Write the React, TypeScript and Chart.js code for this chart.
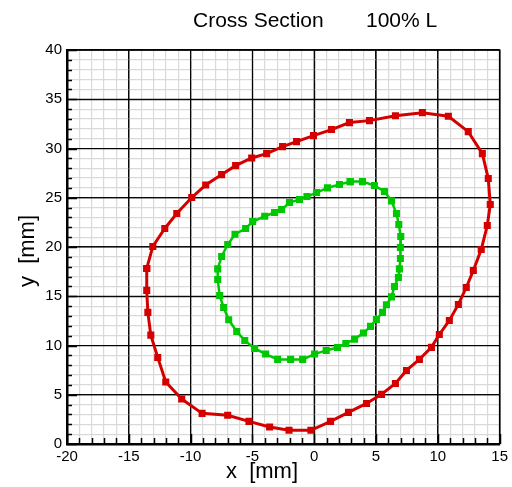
import React, { useEffect, useRef } from "react";
import { Chart, registerables } from "chart.js";

Chart.register(...registerables);

// Outer section contour (red), going counter-clockwise from the left side
const outerX = [-13.55, -13.55, -13.46, -13.22, -12.66, -12.01, -10.72, -9.07, -7.0, -5.28, -3.61, -2.04, -0.27, 1.32, 2.77, 4.23, 5.44, 6.57, 7.46, 8.51, 9.48, 10.12, 10.93, 11.66, 12.3, 12.87, 13.51, 14.0, 14.24, 14.08, 13.6, 12.46, 10.85, 8.75, 6.57, 4.47, 2.85, 1.4, -0.06, -1.43, -2.56, -3.85, -5.06, -6.36, -7.49, -8.78, -9.91, -11.12, -12.09, -13.06];
const outerY = [17.82, 15.6, 13.36, 11.05, 8.79, 6.29, 4.56, 3.11, 2.91, 2.3, 1.72, 1.39, 1.39, 2.3, 3.21, 4.12, 5.04, 6.15, 7.47, 8.59, 9.81, 11.12, 12.54, 14.17, 15.89, 17.61, 19.75, 22.18, 24.31, 26.95, 29.48, 31.71, 33.27, 33.64, 33.33, 32.83, 32.63, 31.92, 31.31, 30.7, 30.19, 29.48, 29.04, 28.26, 27.35, 26.3, 25.02, 23.4, 21.88, 20.05];

// Inner section contour (green), going clockwise from the top
const innerX = [2.91, 3.9, 4.87, 5.68, 6.25, 6.65, 6.84, 7.0, 6.97, 6.97, 6.89, 6.81, 6.49, 6.25, 5.84, 5.52, 5.03, 4.55, 3.98, 3.26, 2.56, 1.88, 0.97, 0.03, -0.94, -1.91, -2.96, -3.93, -4.82, -5.62, -6.27, -6.92, -7.33, -7.65, -7.81, -7.81, -7.49, -7.0, -6.41, -5.55, -4.98, -4.01, -3.21, -2.64, -2.0, -1.19, -0.59, 0.19, 1.07, 2.04];
const innerY = [26.64, 26.64, 26.24, 25.63, 24.68, 23.4, 22.28, 21.06, 19.95, 18.83, 17.78, 16.9, 15.99, 14.94, 14.13, 13.36, 12.64, 11.94, 11.26, 10.65, 10.21, 9.8, 9.5, 9.13, 8.59, 8.59, 8.59, 9.13, 9.7, 10.51, 11.43, 12.61, 13.86, 15.08, 16.7, 17.78, 19.04, 20.25, 21.3, 21.88, 22.59, 23.12, 23.5, 23.8, 24.51, 24.82, 25.12, 25.53, 26.0, 26.34];

// Axis ranges and labels
const xRange = [-20, 15];
const yRange = [0, 40];
const majorStep = 5;
const titleLeft = "Cross Section";
const titleRight = "100% L";
const xTitle = "x  [mm]";
const yTitle = "y  [mm]";

const FONT = "'Liberation Sans', Arial, Helvetica, sans-serif";
const MAJOR_COLOR = "rgba(0,0,0,0.9)";
const MINOR_COLOR = "#d9d9d9";

// Closed loop: repeat the first point so the line returns to the start
const loop = (xs: number[], ys: number[]) => {
  const pts = xs.map((x, i) => ({ x, y: ys[i] }));
  return pts.concat([{ x: xs[0], y: ys[0] }]);
};

const isMajor = (v: number) => Math.abs(v % majorStep) < 1e-9;

// Re-stroke the major grid lines so the minor ones never cut across them
const majorGrid = {
  id: "majorGrid",
  beforeDatasetsDraw(chart: any) {
    const { ctx, chartArea: a, scales } = chart;
    ctx.save();
    ctx.strokeStyle = MAJOR_COLOR;
    ctx.lineWidth = 1.2;
    ctx.beginPath();
    for (let v = xRange[0]; v <= xRange[1]; v += majorStep) {
      const px = scales.x.getPixelForValue(v);
      ctx.moveTo(px, a.top);
      ctx.lineTo(px, a.bottom);
    }
    for (let v = yRange[0]; v <= yRange[1]; v += majorStep) {
      const py = scales.y.getPixelForValue(v);
      ctx.moveTo(a.left, py);
      ctx.lineTo(a.right, py);
    }
    ctx.stroke();
    ctx.restore();
  },
};

const decorations = {
  id: "decorations",
  afterDraw(chart: any) {
    const { ctx, chartArea: a, scales } = chart;
    const xs = scales.x;
    const ys = scales.y;
    ctx.save();
    // inward tick marks on the left and bottom axes
    ctx.strokeStyle = "#000";
    ctx.lineWidth = 1.5;
    ctx.beginPath();
    for (let v = yRange[0]; v <= yRange[1]; v++) {
      const py = Math.round(ys.getPixelForValue(v)) + 0.5;
      const len = isMajor(v) ? 10 : 5;
      ctx.moveTo(a.left, py);
      ctx.lineTo(a.left + len, py);
    }
    for (let v = xRange[0]; v <= xRange[1]; v++) {
      const px = Math.round(xs.getPixelForValue(v)) + 0.5;
      const len = isMajor(v) ? 10 : 6;
      ctx.moveTo(px, a.bottom);
      ctx.lineTo(px, a.bottom - len);
    }
    ctx.stroke();

    // top and right frame
    ctx.lineWidth = 1.5;
    ctx.beginPath();
    ctx.moveTo(a.left, a.top);
    ctx.lineTo(a.right, a.top);
    ctx.lineTo(a.right, a.bottom);
    ctx.stroke();

    // chart title
    ctx.fillStyle = "#000";
    ctx.font = `21px ${FONT}`;
    ctx.textBaseline = "alphabetic";
    ctx.textAlign = "left";
    ctx.fillText(titleLeft, 193, 27);
    ctx.fillText(titleRight, 366, 27);

    // axis titles
    ctx.font = `22px ${FONT}`;
    ctx.textAlign = "center";
    ctx.fillText(xTitle, 262, 478);
    ctx.translate(34, (a.top + a.bottom) / 2 + 4);
    ctx.rotate(-Math.PI / 2);
    ctx.fillText(yTitle, 0, 0);
    ctx.restore();
  },
};

const gridColor = (ctx: any) => (isMajor(ctx.tick.value) ? MAJOR_COLOR : MINOR_COLOR);
const tickLabel = (v: any) => (isMajor(Number(v)) ? String(v) : "");

export default function App() {
  const ref = useRef<HTMLCanvasElement>(null);

  useEffect(() => {
    if (!ref.current) return;
    const chart = new Chart(ref.current, {
      type: "scatter",
      data: {
        datasets: [
          {
            data: loop(outerX, outerY),
            borderColor: "#d40000",
            backgroundColor: "#d40000",
            borderWidth: 3,
            showLine: true,
            pointStyle: "rect",
            pointRadius: 5,
            pointBorderWidth: 0,
          },
          {
            data: loop(innerX, innerY),
            borderColor: "#00c800",
            backgroundColor: "#00c800",
            borderWidth: 2.5,
            showLine: true,
            pointStyle: "rect",
            pointRadius: 5,
            pointBorderWidth: 0,
          },
        ],
      },
      options: {
        responsive: false,
        animation: false,
        layout: { padding: { left: 0, top: 50, right: 11, bottom: 0 } },
        plugins: {
          legend: { display: false },
          tooltip: { enabled: false },
          title: { display: false },
        },
        scales: {
          x: {
            type: "linear",
            min: xRange[0],
            max: xRange[1],
            afterFit: (s: any) => {
              s.height = 43;
            },
            ticks: {
              stepSize: 1,
              autoSkip: false,
              maxRotation: 0,
              padding: 4,
              color: "#000",
              font: { family: FONT, size: 15 },
              callback: tickLabel,
            },
            grid: { color: gridColor, lineWidth: 1.2, drawTicks: false },
            border: { color: "#000", width: 2.5 },
          },
          y: {
            type: "linear",
            min: yRange[0],
            max: yRange[1],
            afterFit: (s: any) => {
              s.width = 67;
            },
            ticks: {
              stepSize: 1,
              autoSkip: false,
              padding: 5,
              color: "#000",
              font: { family: FONT, size: 15 },
              callback: tickLabel,
            },
            grid: { color: gridColor, lineWidth: 1.2, drawTicks: false },
            border: { color: "#000", width: 2.5 },
          },
        },
      },
      plugins: [majorGrid, decorations],
    });
    return () => chart.destroy();
  }, []);

  return (
    <div
      style={{
        position: "absolute",
        left: 0,
        top: 0,
        width: 512,
        height: 487,
        background: "#fff",
      }}
    >
      <canvas ref={ref} width={512} height={487} style={{ display: "block" }} />
    </div>
  );
}
